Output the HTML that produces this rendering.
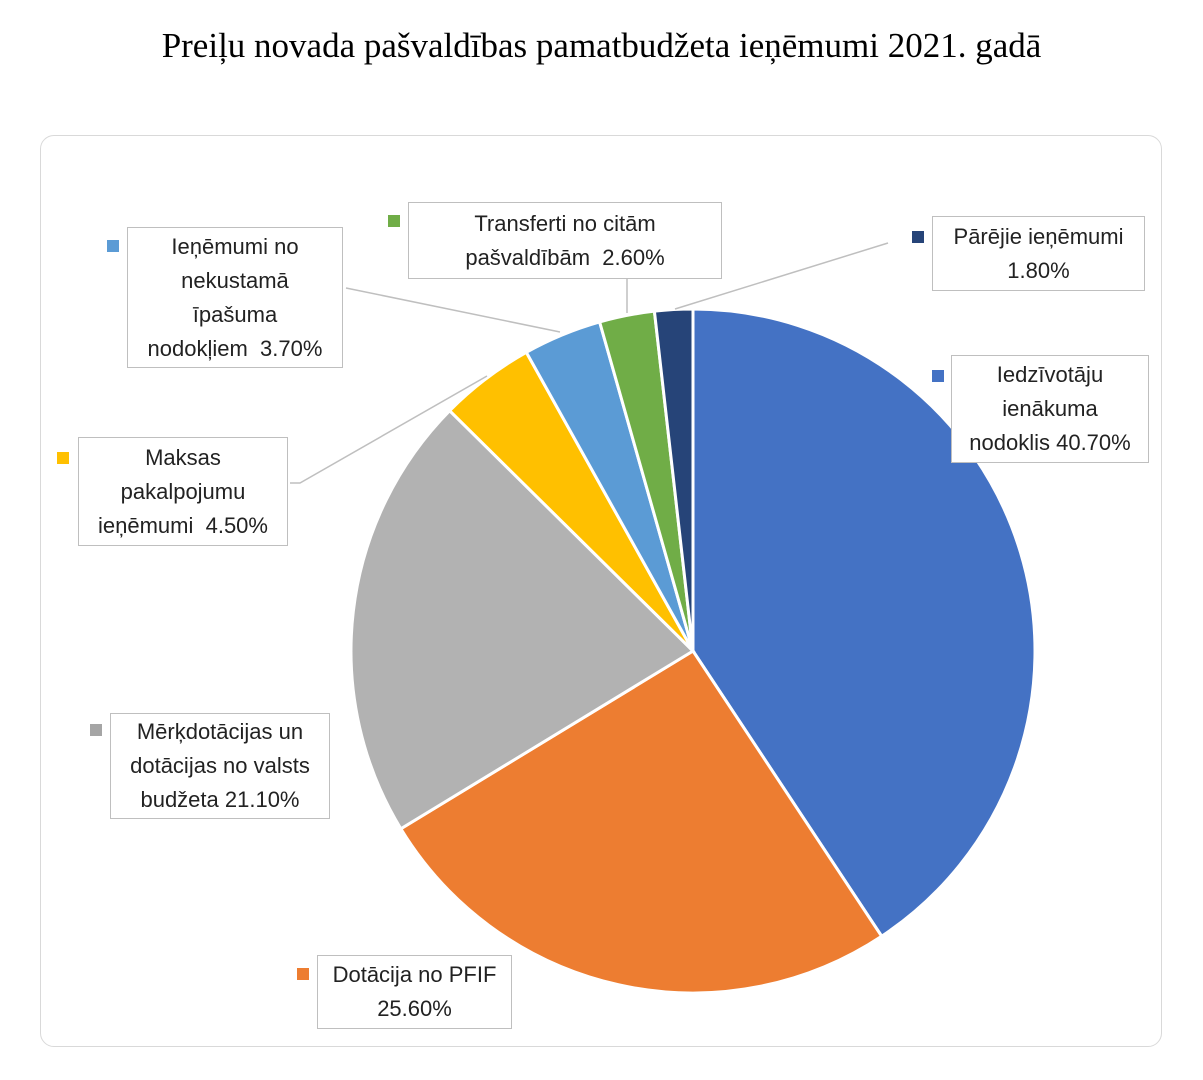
<!DOCTYPE html>
<html><head><meta charset="utf-8"><style>
body{margin:0;width:1203px;height:1080px;background:#fff;position:relative;overflow:hidden;font-family:"Liberation Sans",sans-serif;}
.t{position:absolute;top:26px;left:0;width:1203px;text-align:center;font-family:"Liberation Serif",serif;font-size:35px;color:#000;}
.frame{position:absolute;left:40px;top:135px;width:1122px;height:912px;border:1.5px solid #d9d9d9;border-radius:14px;box-sizing:border-box;}
.lb{position:absolute;border:1.5px solid #bfbfbf;background:#fff;font-size:22px;line-height:34px;text-align:center;color:#222;box-sizing:border-box;display:flex;align-items:center;justify-content:center;}
.m{position:absolute;width:12px;height:12px;}
</style></head><body>
<div class="t">Preiļu novada pašvaldības pamatbudžeta ieņēmumi 2021. gadā</div>
<div class="frame"></div>
<svg width="1203" height="1080" style="position:absolute;left:0;top:0">
<g id="pie"></g>
<g stroke="#bfbfbf" stroke-width="1.5" fill="none">
<polyline points="346,288 560,332"/>
<polyline points="290,483 300,483 487,376"/>
<polyline points="627,279 627,313"/>
<polyline points="888,243 675,309"/>
</g>
</svg>
<div class="lb" style="left:408px;top:202px;width:314px;height:77px">Transferti no citām<br>pašvaldībām&nbsp; 2.60%</div>
<div class="m" style="left:388px;top:215px;background:#70AD47"></div>
<div class="lb" style="left:932px;top:216px;width:213px;height:75px">Pārējie ieņēmumi<br>1.80%</div>
<div class="m" style="left:912px;top:231px;background:#264478"></div>
<div class="lb" style="left:127px;top:227px;width:216px;height:141px">Ieņēmumi no<br>nekustamā<br>īpašuma<br>nodokļiem&nbsp; 3.70%</div>
<div class="m" style="left:107px;top:240px;background:#5B9BD5"></div>
<div class="lb" style="left:951px;top:355px;width:198px;height:108px">Iedzīvotāju<br>ienākuma<br>nodoklis 40.70%</div>
<div class="m" style="left:932px;top:370px;background:#4472C4"></div>
<div class="lb" style="left:78px;top:437px;width:210px;height:109px">Maksas<br>pakalpojumu<br>ieņēmumi&nbsp; 4.50%</div>
<div class="m" style="left:57px;top:452px;background:#FFC000"></div>
<div class="lb" style="left:110px;top:713px;width:220px;height:106px">Mērķdotācijas un<br>dotācijas no valsts<br>budžeta 21.10%</div>
<div class="m" style="left:90px;top:724px;background:#A5A5A5"></div>
<div class="lb" style="left:317px;top:955px;width:195px;height:74px">Dotācija no PFIF<br>25.60%</div>
<div class="m" style="left:297px;top:968px;background:#ED7D31"></div>
<script>
var d=[[40.7,"#4472C4"],[25.6,"#ED7D31"],[21.1,"#B2B2B2"],[4.5,"#FFC000"],[3.7,"#5B9BD5"],[2.6,"#70AD47"],[1.8,"#264478"]];
var cx=693,cy=651,r=342,a=0,s="";
function p(t){var q=t/100*2*Math.PI;return [cx+r*Math.sin(q),cy-r*Math.cos(q)];}
d.forEach(function(x){var b=a+x[0],p1=p(a),p2=p(b);
s+='<path d="M'+cx+','+cy+'L'+p1[0]+','+p1[1]+'A'+r+','+r+' 0 '+(x[0]>50?1:0)+' 1 '+p2[0]+','+p2[1]+'Z" fill="'+x[1]+'" stroke="#fff" stroke-width="3"/>';a=b;});
document.getElementById("pie").innerHTML=s;
</script>
</body></html>
